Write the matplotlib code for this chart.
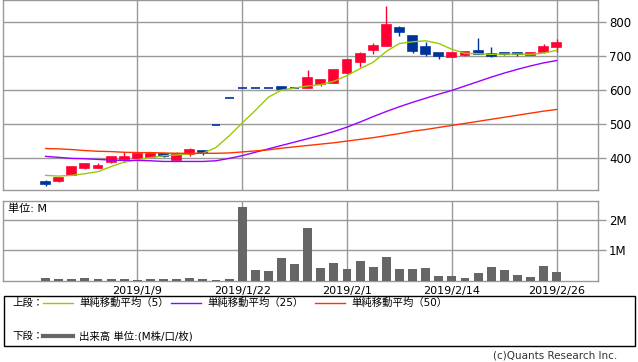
import matplotlib
matplotlib.use('Agg')
import matplotlib.pyplot as plt
from matplotlib.patches import Rectangle

plt.rcParams['font.family'] = ['DejaVu Sans', 'Noto Sans CJK JP']

# trading days shown (index 0 = 2018/12/25)
dates = ['12/25', '12/26', '12/27', '12/28', '1/4', '1/7', '1/8', '1/9', '1/10', '1/11',
         '1/15', '1/16', '1/17', '1/18', '1/21', '1/22', '1/23', '1/24', '1/25', '1/28',
         '1/29', '1/30', '1/31', '2/1', '2/4', '2/5', '2/6', '2/7', '2/8', '2/12',
         '2/13', '2/14', '2/15', '2/18', '2/19', '2/20', '2/21', '2/22', '2/25', '2/26']
date_ticks = [7, 15, 23, 31, 39]
date_labels = ['2019/1/9', '2019/1/22', '2019/2/1', '2019/2/14', '2019/2/26']

opens = [331, 333, 351, 372, 372, 390, 398, 402, 404, 413,
         395, 413, 421, 498, 577, 608, 608, 608, 610, 607,
         608, 619, 622, 651, 684, 720, 731, 785, 760, 727,
         710, 699, 705, 715, 706, 710, 709, 705, 712, 727]
highs = [335, 342, 374, 384, 387, 404, 418, 413, 415, 413,
         418, 430, 424, 498, 577, 608, 608, 608, 610, 607,
         660, 634, 660, 689, 714, 739, 848, 789, 760, 743,
         710, 713, 714, 754, 727, 714, 714, 713, 736, 751]
lows = [320, 330, 351, 369, 372, 387, 388, 402, 403, 403,
        395, 407, 410, 498, 577, 608, 608, 608, 603, 607,
        608, 614, 622, 651, 669, 708, 731, 760, 711, 701,
        693, 699, 700, 706, 698, 703, 702, 705, 710, 712]
closes = [326, 342, 374, 384, 377, 404, 404, 413, 413, 407,
          414, 424, 415, 498, 577, 608, 608, 608, 604, 607,
          636, 630, 660, 689, 706, 730, 792, 772, 717, 708,
          700, 710, 712, 708, 701, 706, 706, 710, 727, 739]

ma5 = [350, 348, 350, 355, 361, 376, 389, 396, 402, 408,
       410, 414, 415, 432, 466, 504, 541, 580, 601, 607,
       613, 617, 627, 644, 664, 683, 715, 738, 743, 746,
       738, 721, 709, 708, 706, 707, 707, 706, 710, 718]
ma25 = [406, 403, 400, 399, 397, 395, 394, 394, 393, 391,
        391, 391, 391, 393, 400, 408, 418, 428, 438, 448,
        458, 468, 479, 492, 507, 523, 538, 552, 565, 577,
        589, 600, 613, 626, 639, 651, 662, 672, 681, 688]
ma50 = [429, 428, 426, 423, 421, 420, 418, 417, 417, 416,
        415, 415, 415, 415, 416, 419, 422, 425, 430, 434,
        438, 442, 446, 451, 456, 461, 467, 473, 480, 485,
        491, 497, 503, 509, 515, 521, 527, 533, 539, 544]

# volume in millions
volume = [0.08, 0.04, 0.04, 0.08, 0.04, 0.04, 0.04, 0.02, 0.04, 0.04,
          0.04, 0.08, 0.04, 0.02, 0.04, 2.44, 0.34, 0.31, 0.74, 0.54,
          1.74, 0.41, 0.58, 0.38, 0.64, 0.44, 0.78, 0.38, 0.38, 0.41,
          0.14, 0.14, 0.08, 0.24, 0.44, 0.34, 0.18, 0.11, 0.48, 0.28]

RED = '#ff0033'
BLUE = '#003399'
GRID = '#999999'

fig = plt.figure(figsize=(6.38, 3.62), dpi=100)
ax = fig.add_axes([3 / 638, 1 - 190 / 362, 595 / 638, 190 / 362])
axv = fig.add_axes([3 / 638, 1 - 280.5 / 362, 595 / 638, 79.5 / 362])

x = list(range(len(dates)))

for a in (ax, axv):
    a.set_xlim(-3.25, 42.15)
    a.set_xticks(date_ticks)
    a.grid(True, color=GRID, linewidth=1)
    a.set_axisbelow(True)
    for s in a.spines.values():
        s.set_color(GRID)
        s.set_linewidth(1)
    a.yaxis.tick_right()
    a.tick_params(axis='y', colors=GRID, length=6, width=1, labelcolor='black',
                  labelsize=8.5, pad=2)
    a.tick_params(axis='x', length=0)

# candles
for i in x:
    col = RED if closes[i] > opens[i] else BLUE
    ax.vlines(i, lows[i], highs[i], color=col, linewidth=1, zorder=3)
    lo = min(opens[i], closes[i])
    h = abs(closes[i] - opens[i])
    ax.bar(i, h, bottom=lo, width=0.68, color=col, edgecolor=col,
           linewidth=1.2, zorder=3)

ax.plot(x, ma5, color='#99cc00', linewidth=1, zorder=4)
ax.plot(x, ma25, color='#9900ff', linewidth=1, zorder=4)
ax.plot(x, ma50, color='#ff3300', linewidth=1, zorder=4)

ax.set_ylim(307, 866)
ax.set_yticks([400, 500, 600, 700, 800])
ax.set_xticklabels([])

axv.bar(x, volume, width=0.68, color='#666666', zorder=3)
axv.set_ylim(0, 2.64)
axv.set_yticks([1, 2])
axv.set_yticklabels(['1M', '2M'])
axv.set_xticklabels(date_labels, fontsize=8)
axv.tick_params(axis='x', pad=4)
fig.text(8 / 638, 1 - 209 / 362, '単位: M', fontsize=8, va='center', ha='left')

# legend box
fig.patches.append(Rectangle((3.5 / 638, 1 - 346 / 362), 631.5 / 638, 50.5 / 362,
                             transform=fig.transFigure, fill=False,
                             edgecolor='black', linewidth=1))
ly1 = 1 - 303 / 362
ly2 = 1 - 336 / 362
fig.text(12 / 638, ly1, '上段：', fontsize=7.5, va='center')
fig.text(12 / 638, ly2, '下段：', fontsize=7.5, va='center')
items = [(43, '#99cc00', '単純移動平均（5）'),
         (171, '#9900ff', '単純移動平均（25）'),
         (315, '#ff3300', '単純移動平均（50）')]
for px, c, label in items:
    fig.add_artist(plt.Line2D([px / 638, (px + 30) / 638], [ly1, ly1],
                              color=c, linewidth=1, transform=fig.transFigure))
    fig.text((px + 36) / 638, ly1, label, fontsize=7.5, va='center')
fig.add_artist(plt.Line2D([43 / 638, 73 / 638], [ly2, ly2], color='#666666',
                          linewidth=3, transform=fig.transFigure))
fig.text(79 / 638, ly2, '出来高 単位:(M株/口/枚)', fontsize=7.5, va='center')

fig.text(617 / 638, 1 - 356 / 362, '(c)Quants Research Inc.', fontsize=7.5,
         ha='right', va='center', color='#333333')

fig.savefig('out.png', dpi=100)
plt.close(fig)
